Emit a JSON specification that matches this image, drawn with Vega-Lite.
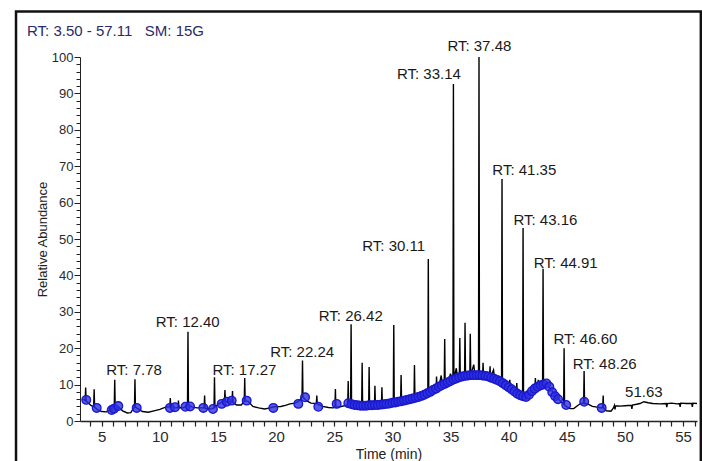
{
  "$schema": "https://vega.github.io/schema/vega-lite/v6.json",
  "width": 617,
  "height": 364,
  "autosize": {"type": "none"},
  "padding": {"left": 80, "top": 57, "right": 5, "bottom": 40},
  "background": "white",
  "config": {"font": "Liberation Sans", "view": {"stroke": null}},
  "title": {"text": "RT: 3.50 - 57.11\u00a0\u00a0\u00a0SM: 15G", "anchor": "start", "frame": "group", "dx": -53, "offset": -41, "baseline": "alphabetic", "fontSize": 15, "fontWeight": "normal", "color": "#2a2a66"},
  "datasets": {
    "trace": [
      {"t":3.30,"v":6.0},{"t":3.50,"v":5.8},{"t":3.58,"v":5.6},{"t":3.62,"v":9.2},{"t":3.66,"v":5.5},{"t":3.90,"v":4.8},{"t":4.10,"v":4.2},{"t":4.31,"v":3.9},{"t":4.35,"v":8.7},{"t":4.39,"v":3.8},{"t":4.60,"v":3.2},{"t":5.00,"v":2.6},{"t":5.40,"v":2.5},{"t":5.70,"v":3.0},{"t":5.90,"v":3.6},{"t":6.08,"v":4.2},{"t":6.12,"v":11.3},{"t":6.16,"v":4.2},{"t":6.40,"v":4.0},{"t":6.80,"v":2.8},{"t":7.20,"v":2.2},{"t":7.50,"v":2.3},{"t":7.70,"v":3.3},{"t":7.82,"v":3.8},{"t":7.86,"v":11.5},{"t":7.90,"v":3.8},{"t":8.10,"v":3.4},{"t":8.50,"v":2.6},{"t":9.00,"v":2.4},{"t":9.50,"v":2.8},{"t":10.00,"v":3.2},{"t":10.50,"v":3.8},{"t":10.86,"v":3.9},{"t":10.90,"v":6.3},{"t":10.94,"v":3.9},{"t":11.30,"v":3.6},{"t":11.56,"v":3.7},{"t":11.60,"v":5.6},{"t":11.64,"v":3.7},{"t":12.00,"v":3.6},{"t":12.25,"v":4.0},{"t":12.38,"v":4.3},{"t":12.42,"v":24.5},{"t":12.46,"v":4.3},{"t":12.80,"v":3.8},{"t":13.20,"v":3.6},{"t":13.60,"v":3.6},{"t":13.81,"v":3.6},{"t":13.85,"v":7.0},{"t":13.89,"v":3.5},{"t":14.20,"v":3.3},{"t":14.50,"v":3.4},{"t":14.66,"v":3.6},{"t":14.70,"v":12.0},{"t":14.74,"v":3.8},{"t":15.00,"v":4.6},{"t":15.30,"v":5.1},{"t":15.56,"v":5.4},{"t":15.60,"v":8.5},{"t":15.64,"v":5.4},{"t":16.00,"v":5.3},{"t":16.21,"v":5.2},{"t":16.25,"v":8.2},{"t":16.29,"v":5.1},{"t":16.60,"v":4.4},{"t":17.00,"v":4.4},{"t":17.26,"v":5.4},{"t":17.30,"v":11.8},{"t":17.34,"v":5.5},{"t":17.60,"v":5.4},{"t":18.00,"v":4.0},{"t":18.50,"v":3.6},{"t":19.00,"v":3.3},{"t":19.50,"v":3.6},{"t":19.80,"v":3.9},{"t":20.40,"v":4.0},{"t":20.80,"v":4.3},{"t":21.20,"v":4.7},{"t":21.60,"v":4.9},{"t":21.90,"v":5.3},{"t":22.10,"v":6.0},{"t":22.23,"v":6.6},{"t":22.27,"v":16.6},{"t":22.31,"v":6.6},{"t":22.60,"v":5.6},{"t":23.00,"v":4.9},{"t":23.46,"v":4.8},{"t":23.50,"v":7.0},{"t":23.54,"v":4.7},{"t":24.00,"v":4.0},{"t":24.50,"v":3.7},{"t":24.90,"v":3.6},{"t":25.06,"v":3.8},{"t":25.10,"v":8.8},{"t":25.14,"v":3.8},{"t":25.60,"v":4.0},{"t":26.00,"v":4.3},{"t":26.16,"v":4.6},{"t":26.20,"v":11.0},{"t":26.24,"v":4.7},{"t":26.41,"v":5.0},{"t":26.45,"v":26.6},{"t":26.49,"v":4.8},{"t":26.80,"v":4.3},{"t":27.20,"v":4.1},{"t":27.36,"v":4.1},{"t":27.40,"v":16.0},{"t":27.44,"v":4.1},{"t":27.70,"v":4.2},{"t":27.96,"v":4.2},{"t":28.00,"v":14.8},{"t":28.04,"v":4.3},{"t":28.26,"v":4.3},{"t":28.46,"v":4.4},{"t":28.50,"v":9.7},{"t":28.54,"v":4.4},{"t":28.80,"v":4.4},{"t":29.06,"v":4.5},{"t":29.10,"v":9.3},{"t":29.14,"v":4.5},{"t":29.60,"v":4.7},{"t":29.90,"v":5.0},{"t":30.08,"v":5.0},{"t":30.12,"v":26.4},{"t":30.16,"v":5.1},{"t":30.50,"v":5.3},{"t":30.71,"v":5.4},{"t":30.75,"v":12.6},{"t":30.79,"v":5.5},{"t":31.20,"v":5.8},{"t":31.50,"v":6.0},{"t":31.86,"v":6.3},{"t":31.90,"v":15.4},{"t":31.94,"v":6.3},{"t":32.30,"v":6.7},{"t":32.70,"v":7.2},{"t":33.05,"v":7.7},{"t":33.09,"v":44.5},{"t":33.13,"v":7.8},{"t":33.40,"v":8.3},{"t":33.76,"v":8.9},{"t":33.80,"v":12.2},{"t":33.84,"v":9.0},{"t":34.00,"v":9.4},{"t":34.20,"v":12.5},{"t":34.30,"v":9.9},{"t":34.46,"v":10.0},{"t":34.50,"v":22.5},{"t":34.54,"v":10.2},{"t":34.80,"v":10.7},{"t":35.00,"v":13.0},{"t":35.10,"v":11.2},{"t":35.21,"v":11.4},{"t":35.25,"v":92.6},{"t":35.29,"v":11.5},{"t":35.50,"v":14.5},{"t":35.60,"v":11.8},{"t":35.76,"v":12.0},{"t":35.80,"v":22.8},{"t":35.84,"v":12.1},{"t":36.05,"v":12.3},{"t":36.21,"v":12.4},{"t":36.25,"v":27.0},{"t":36.29,"v":12.4},{"t":36.50,"v":12.5},{"t":36.66,"v":12.5},{"t":36.70,"v":24.0},{"t":36.74,"v":12.6},{"t":37.00,"v":15.5},{"t":37.10,"v":12.6},{"t":37.41,"v":12.6},{"t":37.45,"v":100},{"t":37.49,"v":12.6},{"t":37.76,"v":12.5},{"t":37.80,"v":16.0},{"t":37.84,"v":12.5},{"t":38.10,"v":12.3},{"t":38.36,"v":12.0},{"t":38.40,"v":15.0},{"t":38.44,"v":12.0},{"t":38.70,"v":14.0},{"t":38.80,"v":11.6},{"t":39.00,"v":11.3},{"t":39.39,"v":10.6},{"t":39.43,"v":66.5},{"t":39.47,"v":10.4},{"t":39.80,"v":9.7},{"t":40.06,"v":9.3},{"t":40.10,"v":11.3},{"t":40.14,"v":9.2},{"t":40.40,"v":8.4},{"t":40.66,"v":7.7},{"t":40.70,"v":10.4},{"t":40.74,"v":7.6},{"t":41.00,"v":7.1},{"t":41.20,"v":6.9},{"t":41.24,"v":53.0},{"t":41.28,"v":6.8},{"t":41.60,"v":6.7},{"t":41.90,"v":7.8},{"t":42.26,"v":8.9},{"t":42.30,"v":11.8},{"t":42.34,"v":9.0},{"t":42.51,"v":9.4},{"t":42.55,"v":11.3},{"t":42.59,"v":9.5},{"t":42.92,"v":9.9},{"t":42.96,"v":41.8},{"t":43.00,"v":10.0},{"t":43.30,"v":10.3},{"t":43.60,"v":8.8},{"t":43.80,"v":8.0},{"t":44.00,"v":7.2},{"t":44.10,"v":6.0},{"t":44.20,"v":6.6},{"t":44.40,"v":5.6},{"t":44.73,"v":4.6},{"t":44.77,"v":20.0},{"t":44.81,"v":4.3},{"t":45.00,"v":3.9},{"t":45.30,"v":3.4},{"t":45.60,"v":3.4},{"t":46.00,"v":4.4},{"t":46.20,"v":4.8},{"t":46.45,"v":4.9},{"t":46.49,"v":13.7},{"t":46.53,"v":4.8},{"t":46.80,"v":4.7},{"t":47.20,"v":4.0},{"t":47.60,"v":3.8},{"t":47.90,"v":3.6},{"t":48.09,"v":3.7},{"t":48.13,"v":7.0},{"t":48.17,"v":3.5},{"t":48.40,"v":2.8},{"t":48.80,"v":2.7},{"t":49.00,"v":3.5},{"t":49.10,"v":4.3},{"t":49.15,"v":3.2},{"t":49.20,"v":4.2},{"t":49.60,"v":4.1},{"t":50.00,"v":4.2},{"t":50.55,"v":4.3},{"t":50.60,"v":3.3},{"t":50.65,"v":4.4},{"t":51.00,"v":4.6},{"t":51.30,"v":4.8},{"t":51.63,"v":5.3},{"t":52.00,"v":5.0},{"t":52.40,"v":4.8},{"t":53.00,"v":4.7},{"t":53.55,"v":4.8},{"t":53.60,"v":3.8},{"t":53.65,"v":4.8},{"t":54.00,"v":4.9},{"t":54.50,"v":4.7},{"t":54.70,"v":4.8},{"t":54.75,"v":3.9},{"t":54.80,"v":4.9},{"t":55.30,"v":4.8},{"t":55.75,"v":4.8},{"t":55.80,"v":3.9},{"t":55.85,"v":4.9},{"t":56.20,"v":4.8}
    ],
    "marks": [
      {"t":3.67,"v":5.8},{"t":4.57,"v":3.6},{"t":5.86,"v":3.0},{"t":6.06,"v":3.4},{"t":6.43,"v":4.1},{"t":8.01,"v":3.6},{"t":10.87,"v":3.6},{"t":11.3,"v":3.8},{"t":12.2,"v":3.9},{"t":12.6,"v":4.0},{"t":13.74,"v":3.6},{"t":14.57,"v":3.3},{"t":15.32,"v":4.7},{"t":15.75,"v":5.3},{"t":16.18,"v":5.6},{"t":17.47,"v":5.6},{"t":19.76,"v":3.6},{"t":21.91,"v":4.7},{"t":22.49,"v":6.5},{"t":23.63,"v":3.9},{"t":25.21,"v":4.7},{"t":26.21,"v":4.9},
      {"t":26.5,"v":4.6},{"t":26.75,"v":4.4},{"t":27.0,"v":4.3},{"t":27.25,"v":4.2},{"t":27.5,"v":4.2},{"t":27.75,"v":4.2},{"t":28.0,"v":4.3},{"t":28.25,"v":4.3},{"t":28.5,"v":4.4},{"t":28.75,"v":4.4},{"t":29.0,"v":4.5},{"t":29.25,"v":4.6},{"t":29.5,"v":4.7},{"t":29.75,"v":4.8},{"t":30.0,"v":5.0},{"t":30.25,"v":5.1},{"t":30.5,"v":5.3},{"t":30.75,"v":5.4},{"t":31.0,"v":5.6},{"t":31.25,"v":5.8},{"t":31.5,"v":6.0},{"t":31.75,"v":6.2},{"t":32.0,"v":6.4},{"t":32.25,"v":6.6},{"t":32.5,"v":6.9},{"t":32.75,"v":7.2},{"t":33.0,"v":7.6},{"t":33.25,"v":8.0},{"t":33.5,"v":8.5},{"t":33.75,"v":8.9},{"t":34.0,"v":9.4},{"t":34.25,"v":9.8},{"t":34.5,"v":10.2},{"t":34.75,"v":10.6},{"t":35.0,"v":11.0},{"t":35.25,"v":11.4},{"t":35.5,"v":11.7},{"t":35.75,"v":12.0},{"t":36.0,"v":12.2},{"t":36.25,"v":12.4},{"t":36.5,"v":12.5},{"t":36.75,"v":12.6},{"t":37.0,"v":12.6},{"t":37.25,"v":12.6},{"t":37.5,"v":12.6},{"t":37.75,"v":12.5},{"t":38.0,"v":12.4},{"t":38.25,"v":12.2},{"t":38.5,"v":11.9},{"t":38.75,"v":11.6},{"t":39.0,"v":11.3},{"t":39.25,"v":10.9},{"t":39.5,"v":10.4},{"t":39.75,"v":9.8},{"t":40.0,"v":9.3},{"t":40.25,"v":8.7},{"t":40.5,"v":8.1},{"t":40.75,"v":7.5},{"t":41.0,"v":7.1},{"t":41.25,"v":6.8},{"t":41.5,"v":6.6},{"t":41.75,"v":7.2},{"t":42.0,"v":8.2},{"t":42.25,"v":8.9},{"t":42.5,"v":9.4},{"t":42.75,"v":9.8},{"t":43.0,"v":10.0},{"t":43.25,"v":10.3},{"t":43.5,"v":9.4},{"t":43.75,"v":7.9},{"t":44.0,"v":6.8},{"t":44.25,"v":6.0},
      {"t":44.95,"v":4.4},{"t":46.5,"v":5.3},{"t":48.0,"v":3.6}
    ],
    "labels": [
      {"t":7.78,"v":14.0,"text":"RT: 7.78"},
      {"t":12.40,"v":27.2,"text":"RT: 12.40"},
      {"t":17.27,"v":14.0,"text":"RT: 17.27"},
      {"t":22.24,"v":19.0,"text":"RT: 22.24"},
      {"t":26.42,"v":28.9,"text":"RT: 26.42"},
      {"t":30.11,"v":48.0,"text":"RT: 30.11"},
      {"t":33.14,"v":95.2,"text":"RT: 33.14"},
      {"t":37.48,"v":102.9,"text":"RT: 37.48"},
      {"t":41.35,"v":69.0,"text":"RT: 41.35"},
      {"t":43.16,"v":55.3,"text":"RT: 43.16"},
      {"t":44.91,"v":43.5,"text":"RT: 44.91"},
      {"t":46.60,"v":22.6,"text":"RT: 46.60"},
      {"t":48.26,"v":15.7,"text":"RT: 48.26"},
      {"t":51.63,"v":8.0,"text":"51.63"}
    ],
    "frame": [{"t": -2.37, "t2": 56.53, "v": 112.5, "v2": -13.5}]
  },
  "encoding": {
    "x": {"field": "t", "type": "quantitative",
      "scale": {"domain": [3.133, 56.2], "nice": false, "zero": false},
      "axis": {"title": "Time (min)", "values": [4,5,6,7,8,9,10,11,12,13,14,15,16,17,18,19,20,21,22,23,24,25,26,27,28,29,30,31,32,33,34,35,36,37,38,39,40,41,42,43,44,45,46,47,48,49,50,51,52,53,54,55,56],
        "labelExpr": "datum.value % 5 === 0 ? datum.label : ''", "labelOverlap": false, "labelFlush": false,
        "tickSize": 5, "labelPadding": 3, "labelFontSize": 15, "labelColor": "#2a2a2a",
        "titleFontSize": 14, "titleFontWeight": "normal", "titleColor": "#222222", "titlePadding": 3,
        "domainColor": "#222222", "domainWidth": 1.3, "tickColor": "#222222", "tickWidth": 1.2, "grid": false}},
    "y": {"field": "v", "type": "quantitative",
      "scale": {"domain": [0, 100], "nice": false, "zero": false},
      "axis": {"title": "Relative Abundance", "values": [0,2,4,6,8,10,12,14,16,18,20,22,24,26,28,30,32,34,36,38,40,42,44,46,48,50,52,54,56,58,60,62,64,66,68,70,72,74,76,78,80,82,84,86,88,90,92,94,96,98,100],
        "labelExpr": "datum.value % 10 === 0 ? datum.label : ''", "labelOverlap": false, "labelFlush": false,
        "tickSize": {"condition": {"test": "datum.value % 10 === 0", "value": 6}, "value": 4},
        "labelPadding": 1, "labelFontSize": 13, "labelColor": "#2a2a2a",
        "titleFontSize": 13, "titleFontWeight": "normal", "titleColor": "#222222", "titlePadding": 2,
        "domainColor": "#222222", "tickColor": "#222222", "grid": false}}
  },
  "layer": [
    {
      "data": {"name": "frame"},
      "mark": {"type": "rect", "filled": false, "stroke": "#111111", "strokeWidth": 2.5},
      "encoding": {
        "x2": {"field": "t2"},
        "y2": {"field": "v2"}
      }
    },
    {
      "data": {"name": "trace"},
      "mark": {"type": "line", "color": "#000000", "strokeWidth": 1.4, "interpolate": "linear"}
    },
    {
      "data": {"name": "marks"},
      "mark": {"type": "point", "shape": "circle", "size": 75, "filled": true, "fill": "#3030e4", "fillOpacity": 0.8, "stroke": "#1818cc", "strokeWidth": 1.3}
    },
    {
      "data": {"name": "labels"},
      "mark": {"type": "text", "fontSize": 15, "align": "center", "baseline": "middle", "color": "#1a1a1a"},
      "encoding": {
        "text": {"field": "text"}
      }
    }
  ]
}
